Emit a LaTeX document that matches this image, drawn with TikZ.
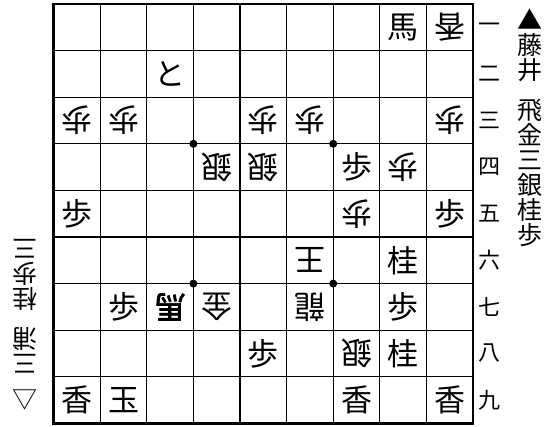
\documentclass[tikz,border=0pt]{standalone}
\usepackage{fontspec}
\newfontfamily\jp{Noto Sans CJK JP}
\newfontfamily\jpb[FakeBold=2.5]{Noto Sans CJK JP}
\begin{document}
\begin{tikzpicture}[x=1pt,y=-1pt,
  piece/.style={inner sep=0pt,font=\jp\fontsize{31}{31}\selectfont},
  gote/.style={piece,rotate=180},
  lastmv/.style={inner sep=0pt,rotate=180,font=\jpb\fontsize{31}{31}\selectfont},
  rowlab/.style={inner sep=0pt,font=\jp\fontsize{22}{22}\selectfont},
  hand/.style={inner sep=0pt,align=center,font=\jp\fontsize{25}{25}\selectfont}]
\useasboundingbox (0,0) rectangle (545,427);
\def\cs{46.6}
\def\xo{53.6}
\def\yo{4}
% grid
\foreach \k in {1,...,8}{
  \draw[line width=1.3pt] ({\xo+\k*\cs},\yo) -- ({\xo+\k*\cs},{\yo+9*\cs});
  \draw[line width=1.3pt] (\xo,{\yo+\k*\cs}) -- ({\xo+9*\cs},{\yo+\k*\cs});
}
\draw[line width=2.6pt] (\xo,\yo) rectangle ({\xo+9*\cs},{\yo+9*\cs});
% hoshi
\foreach \a/\b in {3/3,6/3,3/6,6/6}{
  \fill ({\xo+\a*\cs},{\yo+\b*\cs}) circle (4);
}
% pieces: \pc{style}{col}{row}{char}
\newcommand\pc[4]{\node[#1] (p#2#3) at ({\xo+(#2+0.5)*\cs},{\yo+(#3+0.5)*\cs}) {#4};}
% sente
\pc{piece}{7}{0}{馬}
\pc{piece}{2}{1}{と}
\pc{piece}{6}{3}{歩}
\pc{piece}{0}{4}{歩}
\pc{piece}{8}{4}{歩}
\pc{piece}{7}{5}{桂}
\pc{piece}{1}{6}{歩}
\pc{piece}{7}{6}{歩}
\pc{piece}{4}{7}{歩}
\pc{piece}{7}{7}{桂}
\pc{piece}{0}{8}{香}
\pc{piece}{1}{8}{玉}
\pc{piece}{6}{8}{香}
\pc{piece}{8}{8}{香}
% gote
\pc{gote}{8}{0}{香}
\pc{gote}{0}{2}{歩}
\pc{gote}{1}{2}{歩}
\pc{gote}{4}{2}{歩}
\pc{gote}{5}{2}{歩}
\pc{gote}{8}{2}{歩}
\pc{gote}{3}{3}{銀}
\pc{gote}{4}{3}{銀}
\pc{gote}{7}{3}{歩}
\pc{gote}{6}{4}{歩}
\pc{gote}{5}{5}{王}
\pc{lastmv}{2}{6}{馬}
\pc{gote}{3}{6}{金}
\pc{gote}{5}{6}{龍}
\pc{gote}{6}{7}{銀}
% row labels
\foreach \r/\t in {0/一,1/二,2/三,3/四,4/五,5/六,6/七,7/八,8/九}{
  \node[rowlab] (r\r) at (489,{\yo+(\r+0.5)*\cs}) {\t};
}
% hands
\node[hand,anchor=north] (sente) at (530,9) {▲\\藤\\井\\[15pt]飛\\金\\三\\銀\\桂\\歩};
\node[hand,anchor=north,rotate=180] (gotehand) at (25,410) {△\\[10pt]三\\浦\\[15pt]桂\\歩\\三};
\end{tikzpicture}
\end{document}
